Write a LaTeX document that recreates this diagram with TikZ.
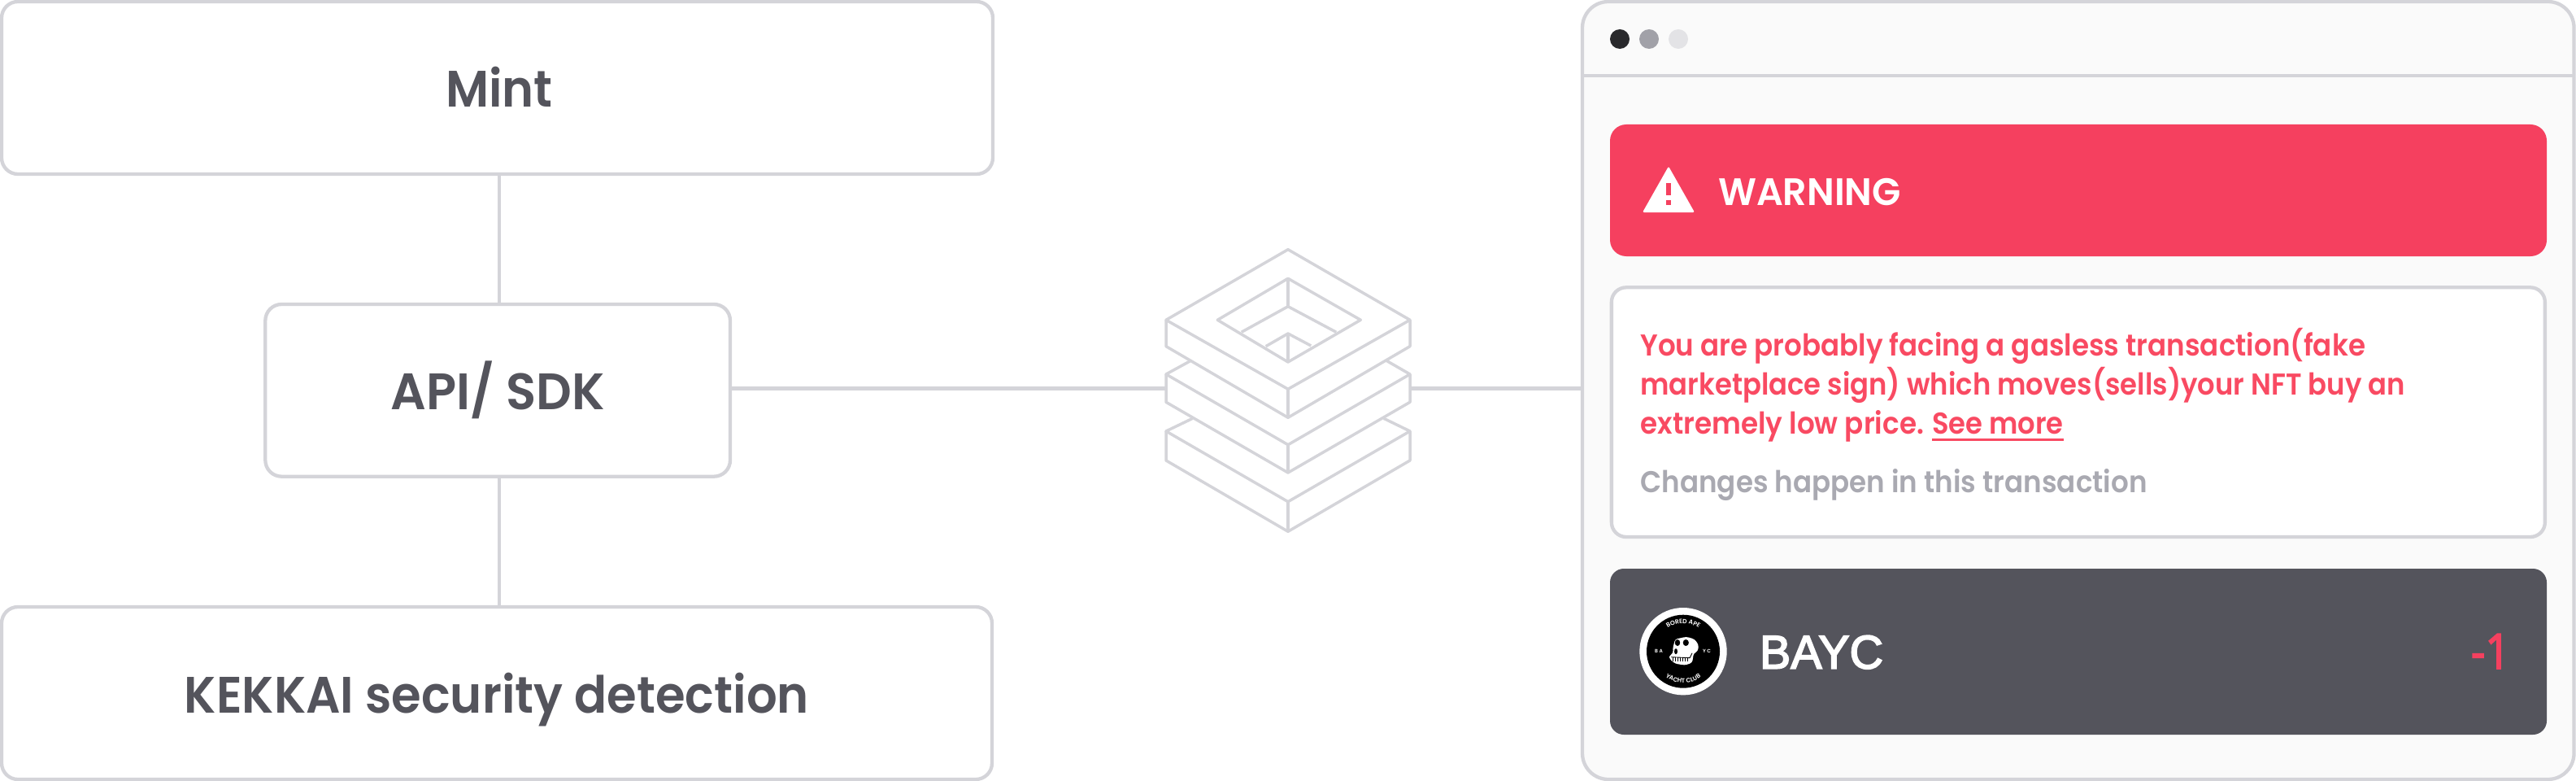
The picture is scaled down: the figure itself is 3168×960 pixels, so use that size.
\documentclass[tikz,border=0pt]{standalone}
\usepackage{fontspec}
\usepackage{graphicx}
\usetikzlibrary{decorations.text}
\newfontfamily\libf[FakeBold=3]{Liberation Sans}
\newfontfamily\opf[FakeBold=3]{Open Sans}
\setmainfont{Poppins SemiBold}
\definecolor{linegray}{HTML}{D4D4D9}
\definecolor{inkgray}{HTML}{54545C}
\definecolor{winbg}{HTML}{FAFAFA}
\definecolor{warnred}{HTML}{F5405F}
\definecolor{textred}{HTML}{F94A62}
\definecolor{softgray}{HTML}{A9A9B1}
\definecolor{dotA}{HTML}{29292C}
\definecolor{dotB}{HTML}{A1A1A8}
\definecolor{dotC}{HTML}{E3E3E6}
\newcommand{\fitw}[2]{\resizebox{#1pt}{\height}{#2}}
\newcommand{\bigf}{\fontsize{63}{70}\selectfont}
\newcommand{\bodyf}{\fontsize{37}{44}\selectfont}
\tikzset{
  flowbox/.style={draw=linegray,line width=4.3pt,rounded corners=20pt,fill=white,inner sep=0pt,outer sep=0pt,
    text=inkgray,text height=50.4pt,text depth=2.4pt,font=\bigf},
  wire/.style={draw=linegray,line width=4.3pt},
  stackline/.style={draw=linegray,line width=3.5pt,line join=round},
  textline/.style={anchor=base west,inner sep=0pt,outer sep=0pt},
}
\begin{document}
\begin{tikzpicture}[x=1pt,y=-1pt]
\useasboundingbox (0,0) rectangle (3168,960);

% flow boxes
\node[flowbox,minimum width=1219pt,minimum height=212pt] (mint) at (611.5,108) {\hspace*{5pt}\fitw{131.5}{Mint}};
\node[flowbox,minimum width=571.7pt,minimum height=211.7pt] (api) at (612.15,479.85) {\fitw{263.5}{API/ SDK}};
\node[flowbox,minimum width=1218pt,minimum height=212pt] (kek) at (611,852) {\fitw{768}{KEKKAI security detection}};

% stack icon
\coordinate (stackL) at (1434,477.5);
\coordinate (stackR) at (1734,477.5);
% top layer
\draw[stackline] (1584,306.7) -- (1734,393.3) -- (1584,478.3) -- (1434,393.3) -- cycle;
\draw[stackline] (1434,393.3) -- (1434,425.7) -- (1584,513.3) -- (1734,425.7) -- (1734,393.3);
\draw[stackline] (1584,478.3) -- (1584,513.3);
\draw[stackline] (1584,342.3) -- (1673.3,393.3) -- (1584,445) -- (1497.3,393.3) -- cycle;
\draw[stackline] (1584,342.3) -- (1584,376.7);
\draw[stackline] (1526.7,408.3) -- (1584,376.7) -- (1643.3,408.3);
\draw[stackline] (1556.7,425.7) -- (1584,410) -- (1612.3,425);
\draw[stackline] (1584,410) -- (1584,445);
% middle layer
\draw[stackline] (1463.3,444) -- (1434,460) -- (1584,546.7) -- (1734,460) -- (1705,443.3);
\draw[stackline] (1434,460) -- (1434,494.3) -- (1584,581) -- (1734,494.3) -- (1734,460);
\draw[stackline] (1584,546.7) -- (1584,581);
% bottom layer
\draw[stackline] (1466.7,514.3) -- (1434,530) -- (1584,616.7) -- (1734,530) -- (1701.7,514.3);
\draw[stackline] (1434,530) -- (1434,566) -- (1584,653.3) -- (1734,566) -- (1734,530);
\draw[stackline] (1584,616.7) -- (1584,653.3);

% window
\node[draw=linegray,line width=4.3pt,rounded corners=32pt,fill=winbg,inner sep=0pt,outer sep=0pt,minimum width=1219.5pt,minimum height=956pt] (window) at (2555.75,480) {};
\draw[wire] (window.west |- 0,93.3) -- (window.east |- 0,93.3);
\fill[dotA] (1992,48) circle (12);
\fill[dotB] (2028,48) circle (12);
\fill[dotC] (2064,48) circle (12);

% connectors
\draw[wire] ([xshift=1.85pt]api.north |- mint.south) -- ([xshift=1.85pt]api.north);
\draw[wire] ([xshift=1.85pt]api.south) -- ([xshift=1.85pt]api.south |- kek.north);
\draw[wire] (api.east |- stackL) -- (stackL);
\draw[wire] (stackR) -- (window.west |- stackR);

% warning banner
\node[fill=warnred,rounded corners=20pt,inner sep=0pt,outer sep=0pt,minimum width=1152pt,minimum height=162pt] (warn) at (2556,234) {};
\fill[white,rounded corners=2pt] (2052,204.5) -- (2084,261) -- (2020,261) -- cycle;
\fill[warnred] (2049,225) rectangle (2055,240);
\fill[warnred] (2049,246) rectangle (2055,252);
\node[textline,text=white,font=\fontsize{47}{50}\selectfont] (warntext) at (2113,252) {\fitw{225}{WARNING}};

% message box
\node[draw=linegray,line width=4.3pt,rounded corners=18pt,fill=white,inner sep=0pt,outer sep=0pt,minimum width=1148pt,minimum height=306.7pt] (msg) at (2555.85,506.65) {};
\node[textline,text=textred,font=\bodyf] (l1) at (2017.4,437.3) {\fitw{891.6}{You are probably facing a gasless transaction(fake}};
\node[textline,text=textred,font=\bodyf] (l2) at (2017.4,485.7) {\fitw{940.6}{marketplace sign) which moves(sells)your NFT buy an}};
\node[textline,text=textred,font=\bodyf] (l3) at (2017.4,533.3) {\fitw{348.6}{extremely low price.}};
\node[textline,text=textred,font=\bodyf] (see) at (2376,533.3) {\fitw{161.6}{See more}};
\draw[textred,line width=2.8pt] ([yshift=-7.4pt]see.base west) -- ([yshift=-7.4pt]see.base east);
\node[textline,text=softgray,font=\bodyf] (chg) at (2017.4,605.7) {\fitw{623.2}{Changes happen in this transaction}};

% asset row
\node[fill=inkgray,rounded corners=17pt,inner sep=0pt,outer sep=0pt,minimum width=1152pt,minimum height=204pt] (asset) at (2556,801) {};
\fill[white] (2070,800.7) circle (53.7);
\fill[black] (2070,800.7) circle (45);
\begin{scope}[shift={(2070,800.7)},x=1pt,y=1pt]
  \path[decorate,decoration={text along path,text align=center,
    text={|\fontsize{7.5}{8}\selectfont\color{white}|BORED APE}}] (126:34.5) arc (126:54:34.5);
  \path[decorate,decoration={text along path,text align=center,
    text={|\fontsize{7.5}{8}\selectfont\color{white}|YACHT CLUB}}] (232:38.5) arc (232:308:38.5);
  \node[text=white,font=\fontsize{6}{6}\selectfont,inner sep=0pt] (ba) at (-30,0) {B A};
  \node[text=white,font=\fontsize{6}{6}\selectfont,inner sep=0pt] (yc) at (29,0) {Y C};
  % skull
  \fill[white,rounded corners=3pt] (-10,15) -- (4,18) -- (14,15) -- (19,8) -- (18,0) -- (13,-2) -- (11,-14) -- (2,-17) -- (-10,-15) -- (-17,-9) -- (-17,-5) -- (-12,-2) -- (-13,3) -- cycle;
  \fill[black] (-7,10.7) ellipse (3.2 and 4);
  \fill[black] (3.3,10.7) ellipse (3.6 and 4);
  \fill[black] (-9,0) ellipse (2 and 3.5);
  \draw[black,line width=.9pt] (11,-2) -- (8,-8) -- (-15,-7);
  \foreach \tx in {-13,-10,-7,-4,-1,2,5} \draw[black,line width=.7pt] (\tx,-7) -- (\tx,-12);
\end{scope}
\node[textline,text=white,font={\fontsize{58}{60}\selectfont\libf}] (bayc) at (2164,821.7) {\fitw{152}{\libf BAYC}};
\node[textline,text=warnred,font={\fontsize{60}{60}\selectfont\opf}] (delta) at (3039,822) {\fitw{48}{\opf -1}};
\end{tikzpicture}
\end{document}
